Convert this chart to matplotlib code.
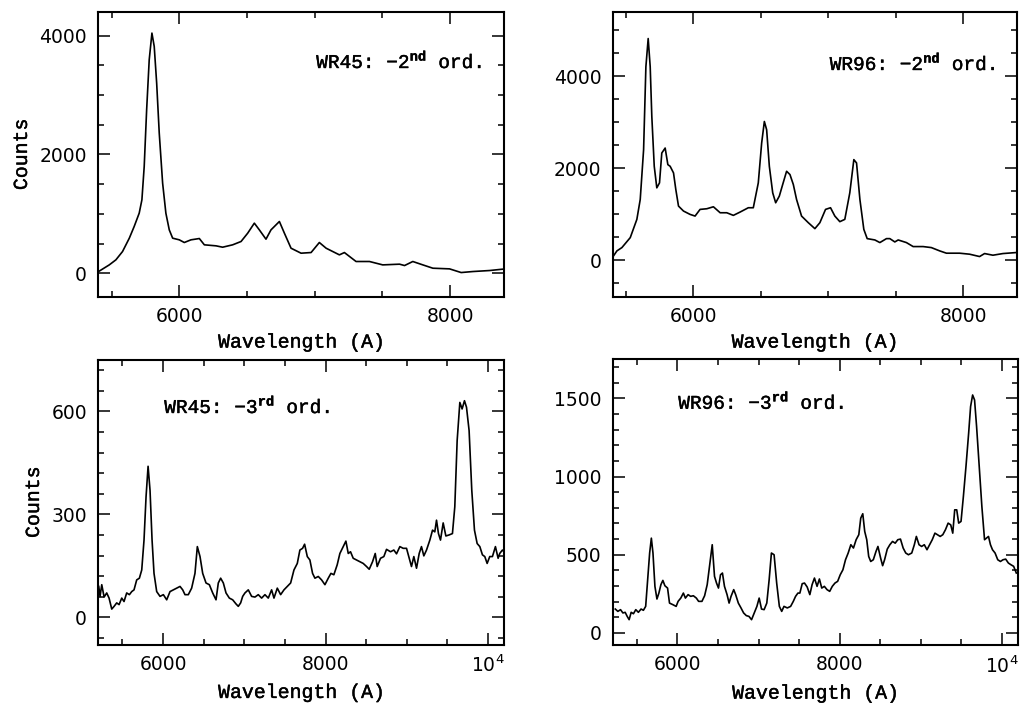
import numpy as np
import matplotlib
matplotlib.use("Agg")
import matplotlib.pyplot as plt
import matplotlib.patheffects as pe
from matplotlib.ticker import MultipleLocator, FuncFormatter

plt.rcParams['font.family'] = ['DejaVu Sans']
plt.rcParams['mathtext.fontset'] = 'custom'
plt.rcParams['mathtext.rm'] = 'Liberation Mono'
plt.rcParams['mathtext.bf'] = 'Liberation Mono:bold'
plt.rcParams['mathtext.sf'] = 'DejaVu Sans'

# WR45, -2nd order
wl_45_2 = [5404, 5483, 5532, 5581, 5631, 5667, 5704, 5724, 5741, 5759, 5778, 5798, 5815, 5833,
           5852, 5877, 5901, 5926, 5951, 6000, 6037, 6086, 6148, 6185, 6271, 6320, 6394, 6456,
           6505, 6554, 6591, 6640, 6677, 6739, 6776, 6825, 6899, 6973, 7034, 7084, 7133, 7182,
           7219, 7305, 7404, 7502, 7626, 7663, 7724, 7798, 7872, 7995, 8081, 8167, 8291, 8384]
ct_45_2 = [28, 140, 225, 365, 590, 787, 1011, 1236, 1798, 2753, 3596, 4045, 3820, 3202,
           2360, 1517, 1011, 730, 590, 562, 517, 562, 584, 478, 461, 438, 478, 534,
           674, 843, 730, 573, 730, 871, 674, 421, 337, 348, 517, 421, 365, 309,
           348, 197, 197, 140, 152, 129, 197, 140, 84, 73, 11, 28, 45, 67]

# WR96, -2nd order
wl_96_2 = [5407, 5432, 5469, 5531, 5580, 5605, 5630, 5647, 5664, 5679, 5691, 5709, 5728, 5748,
           5765, 5790, 5810, 5827, 5852, 5869, 5889, 5926, 5975, 6012, 6049, 6099, 6148, 6198,
           6247, 6296, 6346, 6407, 6444, 6481, 6506, 6526, 6543, 6563, 6588, 6610, 6637, 6662,
           6691, 6716, 6741, 6765, 6802, 6852, 6901, 6938, 6980, 7017, 7049, 7086, 7123, 7160,
           7190, 7210, 7235, 7264, 7289, 7346, 7383, 7432, 7457, 7494, 7519, 7580, 7630, 7704,
           7765, 7827, 7877, 7975, 8049, 8123, 8160, 8222, 8296, 8395]
ct_96_2 = [94, 202, 274, 491, 888, 1321, 2404, 4209, 4823, 4209, 3126, 2043, 1574, 1682,
           2332, 2440, 2079, 2043, 1899, 1538, 1177, 1069, 996, 960, 1105, 1119, 1162, 1032,
           1032, 975, 1047, 1141, 1141, 1682, 2549, 3018, 2838, 2043, 1466, 1249, 1394, 1646,
           1935, 1863, 1646, 1321, 960, 816, 686, 816, 1105, 1141, 960, 838, 888, 1466,
           2188, 2116, 1321, 671, 469, 440, 383, 469, 469, 397, 440, 383, 296, 296,
           274, 202, 152, 152, 130, 79, 144, 108, 144, 166]

# WR45, -3rd order
wl_45_3 = [5209, 5225, 5246, 5275, 5307, 5336, 5369, 5398, 5430, 5459, 5492, 5520, 5553, 5586,
           5615, 5643, 5676, 5709, 5738, 5766, 5791, 5816, 5840, 5865, 5889, 5922, 5963, 6004,
           6045, 6086, 6127, 6168, 6209, 6242, 6270, 6311, 6352, 6393, 6422, 6455, 6488, 6529,
           6570, 6611, 6652, 6680, 6709, 6742, 6775, 6816, 6857, 6898, 6926, 6955, 6980, 7008,
           7049, 7090, 7131, 7172, 7213, 7254, 7295, 7336, 7365, 7406, 7447, 7488, 7529, 7570,
           7611, 7652, 7684, 7717, 7742, 7775, 7807, 7840, 7869, 7910, 7951, 7992, 8033, 8066,
           8102, 8143, 8176, 8217, 8250, 8279, 8307, 8340, 8381, 8422, 8463, 8504, 8537, 8578,
           8611, 8635, 8676, 8717, 8750, 8799, 8840, 8873, 8914, 8955, 8996, 9029, 9057, 9086,
           9119, 9152, 9180, 9209, 9242, 9283, 9316, 9344, 9365, 9389, 9414, 9447, 9480, 9520,
           9561, 9590, 9619, 9652, 9680, 9709, 9734, 9766, 9799, 9832, 9865, 9898, 9930, 9959,
           9988, 10020, 10053, 10090, 10123, 10143, 10176, 10200]
ct_45_3 = [90, 61, 95, 59, 71, 56, 24, 32, 42, 37, 56, 46, 71, 66,
           75, 80, 109, 114, 138, 225, 351, 440, 370, 225, 128, 75, 61, 66,
           51, 75, 80, 85, 90, 80, 66, 66, 85, 128, 206, 177, 128, 100,
           95, 71, 51, 100, 114, 100, 71, 56, 51, 39, 32, 42, 61, 71,
           80, 61, 59, 66, 56, 66, 56, 80, 56, 85, 66, 80, 90, 100,
           138, 157, 196, 201, 213, 177, 167, 128, 114, 119, 109, 95, 114, 128,
           124, 153, 186, 206, 222, 186, 191, 172, 167, 162, 157, 148, 140, 162,
           186, 148, 172, 177, 198, 191, 196, 185, 206, 201, 201, 172, 148, 177,
           143, 186, 206, 179, 196, 225, 254, 249, 283, 244, 225, 275, 237, 240,
           244, 322, 515, 626, 607, 631, 612, 544, 370, 254, 215, 206, 182, 177,
           157, 177, 177, 206, 172, 186, 196, 190]

# WR96, -3rd order
wl_96_3 = [5233, 5265, 5298, 5327, 5355, 5380, 5404, 5429, 5457, 5486, 5518, 5551, 5580, 5608,
           5633, 5657, 5678, 5698, 5722, 5747, 5771, 5796, 5820, 5845, 5878, 5902, 5943, 5984,
           6008, 6041, 6073, 6098, 6131, 6163, 6196, 6233, 6261, 6302, 6335, 6367, 6396, 6429,
           6457, 6482, 6506, 6531, 6555, 6580, 6612, 6637, 6661, 6694, 6718, 6751, 6784, 6816,
           6849, 6882, 6914, 6947, 6980, 7008, 7037, 7069, 7102, 7131, 7159, 7192, 7224, 7257,
           7286, 7314, 7355, 7396, 7429, 7457, 7486, 7510, 7539, 7567, 7600, 7633, 7661, 7690,
           7722, 7751, 7780, 7812, 7845, 7878, 7910, 7943, 7976, 8008, 8041, 8073, 8106, 8139,
           8171, 8204, 8237, 8261, 8286, 8310, 8335, 8359, 8384, 8416, 8449, 8473, 8506, 8531,
           8555, 8588, 8620, 8653, 8686, 8718, 8751, 8784, 8816, 8849, 8890, 8922, 8947, 8980,
           9012, 9045, 9078, 9110, 9143, 9176, 9208, 9241, 9273, 9306, 9339, 9371, 9396, 9420,
           9445, 9469, 9498, 9527, 9559, 9592, 9616, 9641, 9665, 9690, 9722, 9755, 9788, 9812,
           9837, 9861, 9886, 9918, 9951, 9984, 10016, 10049, 10082, 10114, 10147, 10180]
ct_96_3 = [153, 138, 149, 128, 132, 106, 85, 132, 123, 149, 132, 153, 145, 170,
           340, 511, 606, 511, 298, 217, 255, 309, 336, 302, 287, 191, 181, 170,
           202, 223, 255, 223, 245, 234, 238, 223, 202, 202, 238, 309, 426, 564,
           362, 319, 287, 372, 383, 298, 245, 191, 234, 277, 245, 191, 160, 128,
           111, 106, 85, 128, 170, 223, 153, 149, 191, 340, 511, 500, 319, 170,
           138, 170, 160, 170, 202, 234, 255, 255, 315, 319, 294, 245, 309, 351,
           298, 345, 287, 298, 277, 266, 298, 319, 330, 372, 404, 468, 511, 564,
           543, 596, 628, 734, 762, 649, 596, 489, 457, 468, 521, 553, 479, 430,
           468, 536, 564, 585, 574, 596, 600, 543, 511, 500, 511, 564, 617, 564,
           553, 564, 532, 564, 596, 638, 628, 617, 628, 660, 702, 691, 638, 787,
           787, 702, 713, 872, 1064, 1277, 1447, 1521, 1489, 1319, 1064, 809, 596, 606,
           617, 564, 532, 511, 468, 457, 468, 472, 447, 436, 426, 383]

panels = [
    dict(wl=wl_45_2, ct=ct_45_2, pos=[0.096, 0.580, 0.398, 0.403], xlim=(5400, 8400),
         ylim=(-400, 4400), ymaj=2000, ymin=500, label='WR45: $-2^{\\mathbf{nd}}$ ord.',
         tx=0.537, ty=0.832, counts=True),
    dict(wl=wl_96_2, ct=ct_96_2, pos=[0.600, 0.580, 0.396, 0.403], xlim=(5400, 8400),
         ylim=(-800, 5400), ymaj=2000, ymin=500, label='WR96: $-2^{\\mathbf{nd}}$ ord.',
         tx=0.537, ty=0.825, counts=False),
    dict(wl=wl_45_3, ct=ct_45_3, pos=[0.096, 0.088, 0.398, 0.403], xlim=(5200, 10200),
         ylim=(-80, 750), ymaj=300, ymin=60, label='WR45: $-3^{\\mathbf{rd}}$ ord.',
         tx=0.163, ty=0.842, counts=True),
    dict(wl=wl_96_3, ct=ct_96_3, pos=[0.600, 0.087, 0.397, 0.405], xlim=(5200, 10200),
         ylim=(-80, 1750), ymaj=500, ymin=100, label='WR96: $-3^{\\mathbf{rd}}$ ord.',
         tx=0.162, ty=0.855, counts=False),
]

heavy = [pe.withStroke(linewidth=0.3, foreground='black')]


def xfmt(v, pos):
    if abs(v - 10000) < 1:
        return r'$\mathsf{10^4}$'
    return '%d' % v


fig = plt.figure(figsize=(10.21, 7.07), dpi=100)
for p in panels:
    ax = fig.add_axes(p['pos'])
    ax.plot(p['wl'], p['ct'], color='black', lw=1.2)
    ax.set_xlim(p['xlim'])
    ax.set_ylim(p['ylim'])
    ax.xaxis.set_major_locator(MultipleLocator(2000))
    ax.xaxis.set_minor_locator(MultipleLocator(500))
    ax.xaxis.set_major_formatter(FuncFormatter(xfmt))
    ax.yaxis.set_major_locator(MultipleLocator(p['ymaj']))
    ax.yaxis.set_minor_locator(MultipleLocator(p['ymin']))
    ax.tick_params(which='both', direction='in', top=True, right=True, width=1.1,
                   labelsize=13.5)
    ax.tick_params(which='major', length=8.5)
    ax.tick_params(which='minor', length=4.3)
    ax.tick_params(axis='x', pad=7)
    ax.tick_params(axis='y', pad=8)
    for s in ax.spines.values():
        s.set_linewidth(1.5)
    xl = ax.set_xlabel('Wavelength (A)', family='Liberation Mono', fontsize=14.3, labelpad=5)
    xl.set_path_effects(heavy)
    if p['counts']:
        yl = ax.set_ylabel('Counts', family='Liberation Mono', fontsize=14.3, labelpad=6)
        yl.set_path_effects(heavy)
    t = ax.text(p['tx'], p['ty'], p['label'], transform=ax.transAxes,
                family='Liberation Mono', fontsize=14, va='center', ha='left')
    t.set_path_effects(heavy)

plt.savefig('out.png', dpi=100)
